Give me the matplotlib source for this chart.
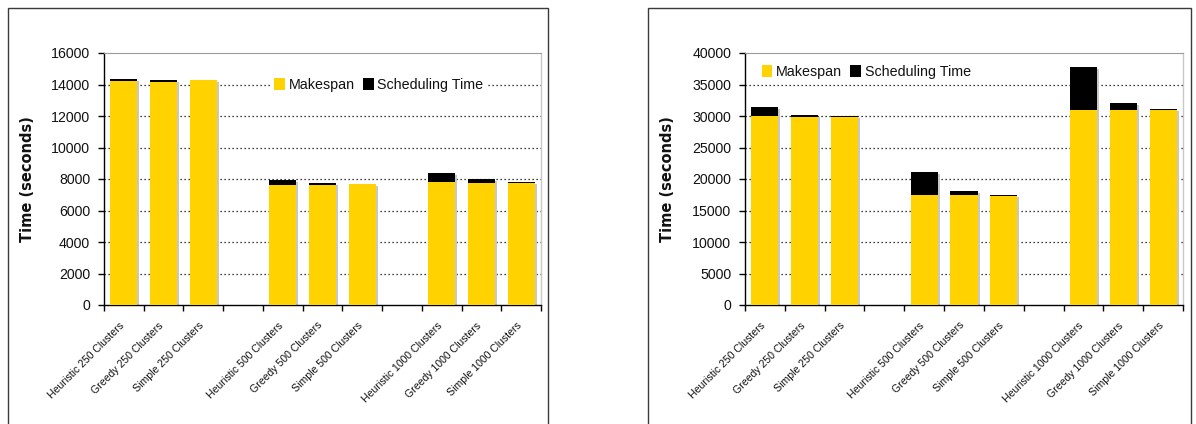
import matplotlib
matplotlib.use("Agg")
import matplotlib.pyplot as plt
import matplotlib.transforms as mtransforms
from matplotlib.patches import Rectangle, Patch
import numpy as np

plt.rcParams['font.family'] = ['Liberation Sans', 'DejaVu Sans']

categories = [
    "Heuristic 250 Clusters", "Greedy 250 Clusters", "Simple 250 Clusters",
    "Heuristic 500 Clusters", "Greedy 500 Clusters", "Simple 500 Clusters",
    "Heuristic 1000 Clusters", "Greedy 1000 Clusters", "Simple 1000 Clusters",
]
# slot index of each bar (one empty slot between cluster-size groups)
slots = [0, 1, 2, 4, 5, 6, 8, 9, 10]

# panel 1
makespan_a = [14200, 14190, 14270, 7600, 7600, 7660, 7790, 7730, 7750]
sched_a = [130, 75, 0, 315, 125, 0, 570, 250, 60]
# panel 2
makespan_b = [30030, 29870, 29920, 17450, 17450, 17300, 30980, 30980, 30980]
sched_b = [1430, 320, 110, 3660, 640, 160, 6850, 1110, 210]

yticks_a = [0, 2000, 4000, 6000, 8000, 10000, 12000, 14000, 16000]
yticks_b = [0, 5000, 10000, 15000, 20000, 25000, 30000, 35000, 40000]

legend_labels = ["Makespan", "Scheduling Time"]

YELLOW = "#FFD200"
SHADOW = "#C8C8C8"

W, H = 1196, 424
fig = plt.figure(figsize=(W / 100, H / 100), dpi=100)

# outer frames around each chart
for x0, x1 in [(7.5, 548), (648, 1191)]:
    fig.patches.append(Rectangle((x0 / W, -0.05), (x1 - x0) / W, (H - 7.5) / H + 0.05,
                                 transform=fig.transFigure, fill=False,
                                 edgecolor="#3a3a3a", linewidth=1.0, zorder=0))


def draw_panel(rect, makespan, sched, yticks, legend_pos, label_x):
    ax = fig.add_axes(rect)
    xs = np.array(slots) + 0.5
    w = 0.68
    totals = np.array(makespan) + np.array(sched)
    shadow_tr = mtransforms.offset_copy(ax.transData, fig=fig, x=2.0, y=-2.0, units='dots')
    ax.bar(xs, totals, width=w, color=SHADOW, edgecolor='none', transform=shadow_tr, zorder=2)
    ax.bar(xs, makespan, width=w, color=YELLOW, edgecolor='none', zorder=3)
    ax.bar(xs, sched, width=w, bottom=makespan, color='black', edgecolor='none', zorder=3)

    ax.set_xlim(0, 11)
    ax.set_ylim(yticks[0], yticks[-1])
    ax.set_yticks(yticks)
    ax.set_yticklabels([str(v) for v in yticks], fontsize=10.2, color='#111111')
    ax.set_xticks(np.arange(0, 12))
    ax.set_xticklabels([])
    ax.set_xticks(xs, minor=True)
    ax.set_xticklabels(categories, minor=True, rotation=45, ha='right', va='top',
                       rotation_mode='anchor', fontsize=7.6, color='#111111')
    ax.tick_params(axis='x', which='minor', length=0, pad=11)
    ax.tick_params(axis='x', which='major', direction='out', length=4, width=1)
    ax.tick_params(axis='y', direction='out', length=4, width=1, pad=6)
    shift = mtransforms.ScaledTranslation(-5 / 100, 0, fig.dpi_scale_trans)
    for lab in ax.get_xticklabels(minor=True):
        lab.set_transform(lab.get_transform() + shift)

    for v in yticks[1:-1]:
        ax.axhline(v, color='black', linestyle=(0, (1, 2.2)), linewidth=0.9, zorder=1)

    for side in ('left', 'bottom'):
        ax.spines[side].set_color('black')
        ax.spines[side].set_linewidth(1.0)
    ax.spines['top'].set_color('#9a9a9a')
    ax.spines['top'].set_linestyle((0, (1, 1)))
    ax.spines['right'].set_color('#c8c8c8')
    ax.spines['right'].set_linewidth(1.0)

    fig.text(label_x, rect[1] + rect[3] / 2, "Time (seconds)", rotation=90,
             ha='center', va='center', fontsize=10.5, fontweight='bold',
             family='DejaVu Sans', color='#111111')

    handles = [Patch(facecolor=YELLOW, edgecolor='none'),
               Patch(facecolor='black', edgecolor='none')]
    leg = ax.legend(handles, legend_labels, ncol=2, loc='center left',
                    bbox_to_anchor=legend_pos, frameon=True, fontsize=10.3,
                    handlelength=0.76, handleheight=0.82, handletextpad=0.27,
                    columnspacing=0.52, borderpad=0.15, borderaxespad=0)
    for t in leg.get_texts():
        t.set_color('#111111')
    leg.get_frame().set_facecolor('white')
    leg.get_frame().set_edgecolor('none')
    leg.get_frame().set_alpha(1)
    leg.set_zorder(5)
    return ax


draw_panel([104 / W, 119 / H, 437 / W, 252 / H], makespan_a, sched_a,
           yticks_a, (0.385, 0.873), 27 / W)
draw_panel([745 / W, 119 / H, 438 / W, 252 / H], makespan_b, sched_b,
           yticks_b, (0.033, 0.925), 668 / W)

fig.savefig("out.png", dpi=100)
